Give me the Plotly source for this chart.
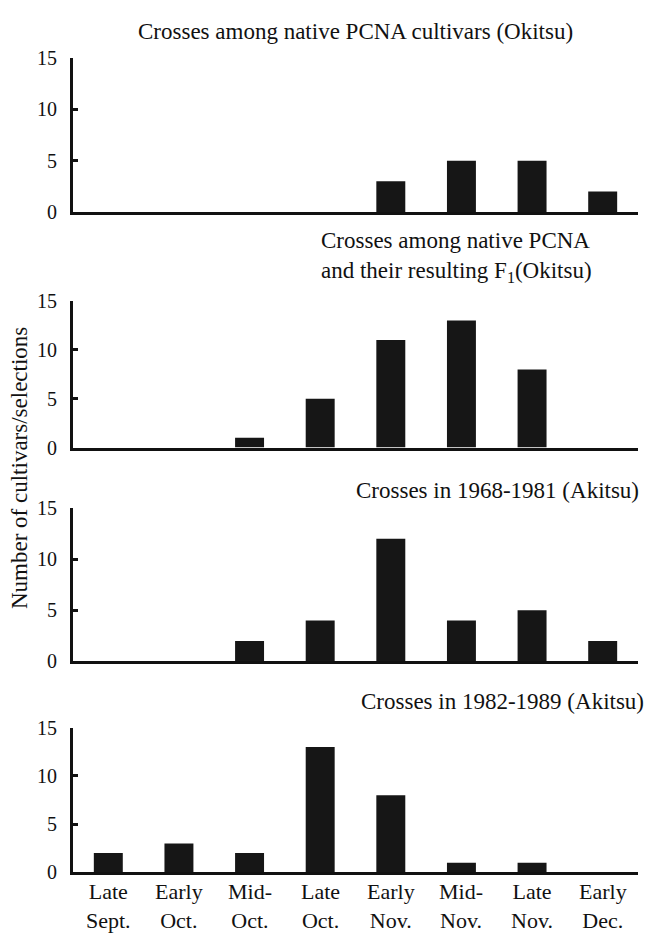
import plotly.graph_objects as go
from plotly.subplots import make_subplots

# Harvest periods (two-line labels)
periods = ["Late\nSept.", "Early\nOct.", "Mid-\nOct.", "Late\nOct.",
           "Early\nNov.", "Mid-\nNov.", "Late\nNov.", "Early\nDec."]

# Number of cultivars/selections per harvest period
native_pcna = [0, 0, 0, 0, 3, 5, 5, 2]
native_f1 = [0, 0, 1, 5, 11, 13, 8, 0]
akitsu_1968_1981 = [0, 0, 2, 4, 12, 4, 5, 2]
akitsu_1982_1989 = [2, 3, 2, 13, 8, 1, 1, 0]

series = [native_pcna, native_f1, akitsu_1968_1981, akitsu_1982_1989]
y_ticks = [0, 5, 10, 15]

W, H = 646, 937
L, R = 73, 638          # plot area in pixels
FONT = "Liberation Serif"
BAR = "#161616"
INK = "#111"


def py(px):
    """Pixel row -> paper y."""
    return 1 - px / H


def px_x(px):
    """Pixel column -> paper x (plot area)."""
    return (px - L) / (R - L)


# vertical extent (top = 15, bottom = 0) of each panel in pixels
panel_px = [(48, 206), (297, 447), (509, 666), (734, 882)]

fig = make_subplots(rows=4, cols=1)
cats = list(range(len(periods)))

for i, vals in enumerate(series, start=1):
    fig.add_trace(go.Bar(x=cats, y=vals, marker=dict(color=BAR, line=dict(width=0)),
                         width=0.41, showlegend=False, hoverinfo="skip"), row=i, col=1)
    top, bot = panel_px[i - 1]
    fig.update_yaxes(domain=[py(bot), py(top)], range=[0, 15], tickvals=y_ticks,
                     ticks="inside", ticklen=5, tickwidth=3, tickcolor=INK,
                     showline=True, linewidth=3, linecolor=INK, showgrid=False,
                     zeroline=False, ticklabelstandoff=9,
                     tickfont=dict(family=FONT, size=20, color=INK), row=i, col=1)
    fig.update_xaxes(range=[-0.5, 7.5], showline=True, linewidth=3, linecolor=INK,
                     showgrid=False, zeroline=False, ticks="", showticklabels=False,
                     row=i, col=1)

annos = []
tf = dict(family=FONT, size=23, color=INK)


def label(text, x, y, xanchor="center", **kw):
    d = dict(text=text, x=x, y=y, xref="paper", yref="paper", xanchor=xanchor,
             yanchor="middle", showarrow=False, font=tf)
    d.update(kw)
    return d


# Panel titles
annos.append(label("Crosses among native PCNA cultivars (Okitsu)", px_x(355), py(21)))
annos.append(label("Crosses among native PCNA<br>and their resulting F<sub>1</sub>(Okitsu)",
                   px_x(319), py(252), "left", align="left"))
annos.append(label("Crosses in 1968-1981 (Akitsu)", px_x(641), py(491), "right"))
annos.append(label("Crosses in 1982-1989 (Akitsu)", px_x(646), py(707), "right"))

# Y axis title
annos.append(label("Number of cultivars/selections", px_x(19), py(468), textangle=-90))

# Two-line period labels under the bottom panel
for k, lab in enumerate(periods):
    annos.append(dict(text=lab.replace("\n", "<br>"), x=cats[k], y=py(917),
                      xref="x4", yref="paper", xanchor="center", yanchor="middle",
                      showarrow=False, font=dict(family=FONT, size=22, color=INK)))

fig.update_layout(width=W, height=H, margin=dict(l=L, r=W - R, t=0, b=0),
                  paper_bgcolor="white", plot_bgcolor="white", bargap=0.59,
                  annotations=annos)

fig.write_html("out.html")
